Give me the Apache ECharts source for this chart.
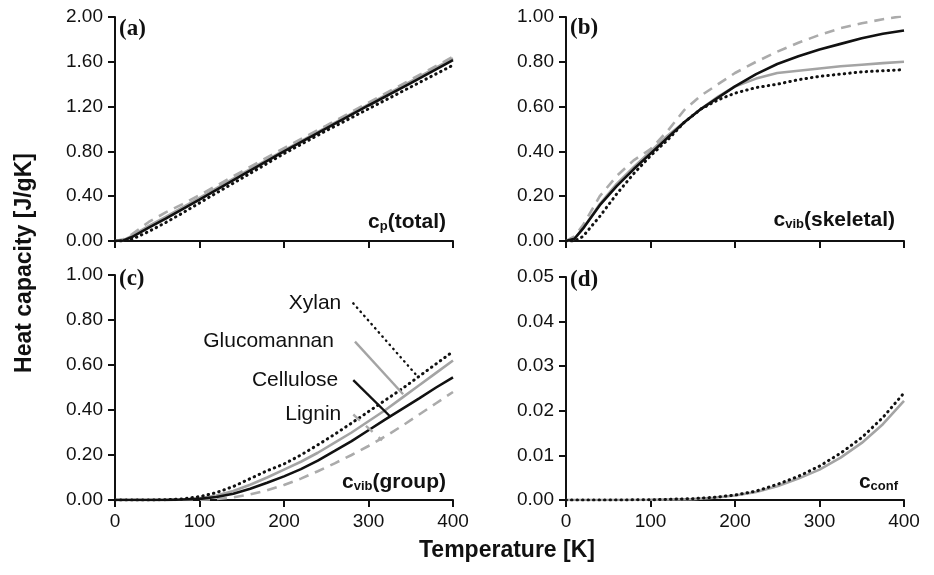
<!DOCTYPE html>
<html><head><meta charset="utf-8">
<script src="https://cdn.jsdelivr.net/npm/echarts@6/dist/echarts.min.js"></script>
<style>html,body{margin:0;padding:0;background:#fff}#c{width:934px;height:575px}</style>
</head><body><div id="c"></div><script>
// ---- Data ----
const xTicks = [0, 100, 200, 300, 400];
// (a) c_p(total)
const tempA = [0,10,20,40,60,80,100,150,200,250,300,350,400];
const cpCellulose   = [0,0.005,0.035,0.12,0.20,0.285,0.37,0.585,0.80,1.005,1.21,1.41,1.615];
const cpGlucomannan = [0,0.008,0.045,0.135,0.215,0.30,0.385,0.60,0.81,1.015,1.22,1.425,1.63];
const cpLignin      = [0,0.015,0.06,0.17,0.255,0.33,0.41,0.62,0.83,1.03,1.235,1.44,1.645];
const cpXylan       = [0,0,0.015,0.085,0.165,0.25,0.34,0.56,0.78,0.985,1.18,1.375,1.57];
// (b) c_vib(skeletal)
const tempB = [0,10,20,40,60,80,100,120,140,160,180,200,225,250,275,300,325,350,375,400];
const skCellulose   = [0,0.01,0.055,0.16,0.245,0.32,0.39,0.46,0.53,0.59,0.64,0.69,0.745,0.79,0.825,0.855,0.88,0.905,0.925,0.94];
const skGlucomannan = [0,0.01,0.055,0.165,0.255,0.33,0.40,0.47,0.53,0.59,0.645,0.69,0.725,0.75,0.76,0.77,0.78,0.787,0.794,0.80];
const skLignin      = [0,0.02,0.07,0.20,0.29,0.36,0.41,0.49,0.585,0.65,0.70,0.75,0.80,0.845,0.885,0.92,0.95,0.972,0.99,1.005];
const skXylan       = [0,0,0.02,0.11,0.21,0.30,0.38,0.45,0.53,0.59,0.63,0.66,0.685,0.70,0.72,0.735,0.745,0.755,0.76,0.765];
// (c) c_vib(group)
const tempC = [0,20,40,60,80,100,120,140,160,180,200,220,240,260,280,300,320,340,360,380,400];
const grCellulose   = [0,0,0,0,0.002,0.005,0.013,0.028,0.05,0.077,0.105,0.137,0.175,0.218,0.262,0.31,0.358,0.405,0.452,0.50,0.545];
const grGlucomannan = [0,0,0,0,0.002,0.008,0.02,0.04,0.068,0.10,0.135,0.17,0.21,0.255,0.30,0.35,0.40,0.455,0.51,0.565,0.62];
const grLignin      = [0,0,0,0,0,0.001,0.004,0.012,0.025,0.043,0.067,0.095,0.128,0.163,0.20,0.24,0.283,0.33,0.38,0.43,0.48];
const grXylan       = [0,0,0,0.001,0.005,0.015,0.033,0.06,0.095,0.13,0.16,0.2,0.245,0.292,0.342,0.393,0.444,0.495,0.55,0.605,0.66];
// (d) c_conf
const tempD = [0,50,100,150,175,200,225,250,275,300,325,350,375,400];
const confXylan       = [0,0,0.00005,0.0003,0.0006,0.0011,0.002,0.0035,0.0053,0.0076,0.0105,0.014,0.0185,0.024];
const confGlucomannan = [0,0,0.00004,0.0002,0.0005,0.001,0.0018,0.0031,0.0048,0.0068,0.0095,0.0128,0.017,0.0222];
// leader lines of the material labels in (c)
const leaderNames = ['Xylan', 'Glucomannan', 'Cellulose', 'Lignin'];
const leaderStartT = [282, 284, 282, 282];
const leaderStartV = [0.874, 0.704, 0.533, 0.38];
const leaderEndT   = [359, 341, 326, 316];
const leaderEndV   = [0.545, 0.47, 0.37, 0.265];
// axis ranges
const yMax = [2.0, 1.0, 1.0, 0.05];
const yStep = [0.4, 0.2, 0.2, 0.01];
const panelTags = ['(a)', '(b)', '(c)', '(d)'];

// ---- Styles ----
const BLACK = '#111111', GRAY = '#a4a4a4', DGRAY = '#ababab';
const FONT = '"Liberation Sans", Arial, Helvetica, sans-serif';
const SERIF = '"Liberation Serif", "Times New Roman", serif';
const styles = {
  Cellulose:   {color: BLACK, type: 'solid', width: 2.6},
  Glucomannan: {color: GRAY, type: 'solid', width: 2.6},
  Lignin:      {color: DGRAY, type: [10, 7], width: 2.6},
  Xylan:       {color: BLACK, type: [0.5, 5], width: 3, cap: 'round'}
};
const zip = (xs, ys) => xs.map((x, i) => [x, ys[i]]);

const grids = [
  {left: 115, top: 17, width: 338, height: 224},
  {left: 566, top: 17, width: 338, height: 224},
  {left: 115, top: 275, width: 338, height: 225},
  {left: 566, top: 277, width: 338, height: 223}
];

const xAxes = grids.map((g, i) => ({
  gridIndex: i, type: 'value', min: xTicks[0], max: xTicks[xTicks.length - 1], interval: xTicks[1] - xTicks[0],
  axisLine: {show: true, lineStyle: {color: BLACK, width: 2}},
  axisTick: {show: true, length: 7, lineStyle: {color: BLACK, width: 2}},
  axisLabel: {show: i >= 2, color: BLACK, fontSize: 19, fontFamily: FONT, margin: 12},
  splitLine: {show: false}
}));
const yAxes = grids.map((g, i) => ({
  gridIndex: i, type: 'value', min: 0, max: yMax[i], interval: yStep[i],
  axisLine: {show: true, onZero: false, lineStyle: {color: BLACK, width: 2}},
  axisTick: {show: true, length: 7, lineStyle: {color: BLACK, width: 2}},
  axisLabel: {color: BLACK, fontSize: 19, fontFamily: FONT, margin: 12,
    formatter: v => v.toFixed(2)},
  splitLine: {show: false}
}));

function curve(name, panel, xs, ys) {
  return {
    name, type: 'line', xAxisIndex: panel, yAxisIndex: panel,
    data: zip(xs, ys), showSymbol: false, symbol: 'none',
    smooth: false, clip: true, sampling: null,
    lineStyle: styles[name], silent: true, animation: false, z: 3
  };
}

const series = [
  curve('Lignin', 0, tempA, cpLignin),
  curve('Glucomannan', 0, tempA, cpGlucomannan),
  curve('Cellulose', 0, tempA, cpCellulose),
  curve('Xylan', 0, tempA, cpXylan),
  curve('Lignin', 1, tempB, skLignin),
  curve('Glucomannan', 1, tempB, skGlucomannan),
  curve('Cellulose', 1, tempB, skCellulose),
  curve('Xylan', 1, tempB, skXylan),
  curve('Lignin', 2, tempC, grLignin),
  curve('Glucomannan', 2, tempC, grGlucomannan),
  curve('Cellulose', 2, tempC, grCellulose),
  curve('Xylan', 2, tempC, grXylan),
  curve('Glucomannan', 3, tempD, confGlucomannan),
  curve('Xylan', 3, tempD, confXylan)
];

// leader lines
leaderNames.forEach((nm, k) => {
  const st = Object.assign({}, styles[nm]);
  if (nm === 'Lignin') st.type = [9, 8];
  series.push({
    name: nm + ' leader', type: 'line', xAxisIndex: 2, yAxisIndex: 2,
    data: [[leaderStartT[k], leaderStartV[k]], [leaderEndT[k], leaderEndV[k]]],
    showSymbol: false, symbol: 'none', lineStyle: Object.assign(st, {width: 2.4}),
    silent: true, animation: false, z: 4
  });
});
const labelGap = {Xylan: 12, Glucomannan: 21, Cellulose: 15, Lignin: 12};

const richMain = {fontSize: 21, fontWeight: 'bold', fontFamily: FONT, fill: BLACK, verticalAlign: 'bottom', lineHeight: 22};
const richSub = {fontSize: 13, fontWeight: 'bold', fontFamily: FONT, fill: BLACK, verticalAlign: 'bottom', lineHeight: 9};
function subLabel(main, sub, tail, x, y) {
  return {
    type: 'text', x, y, silent: true,
    style: {text: '{b|' + main + '}{s|' + sub + '}' + (tail ? '{b|' + tail + '}' : ''),
      align: 'right', verticalAlign: 'middle',
      rich: {b: richMain, s: richSub}}
  };
}

const graphics = [
  {type: 'text', x: 119, y: 29, silent: true, style: {text: panelTags[0], font: 'bold 23px ' + SERIF, fill: BLACK, verticalAlign: 'middle'}},
  {type: 'text', x: 570, y: 28, silent: true, style: {text: panelTags[1], font: 'bold 23px ' + SERIF, fill: BLACK, verticalAlign: 'middle'}},
  {type: 'text', x: 119, y: 279, silent: true, style: {text: panelTags[2], font: 'bold 23px ' + SERIF, fill: BLACK, verticalAlign: 'middle'}},
  {type: 'text', x: 570, y: 280, silent: true, style: {text: panelTags[3], font: 'bold 23px ' + SERIF, fill: BLACK, verticalAlign: 'middle'}},
  subLabel('c', 'p', '(total)', 446, 222),
  subLabel('c', 'vib', '(skeletal)', 895, 220),
  subLabel('c', 'vib', '(group)', 446, 482),
  subLabel('c', 'conf', '', 898, 482),
  {type: 'text', x: 507, y: 551, silent: true,
    style: {text: 'Temperature [K]', font: 'bold 23px ' + FONT, fill: BLACK, align: 'center', verticalAlign: 'middle'}},
  {type: 'text', x: 25, y: 263, rotation: Math.PI / 2, silent: true,
    style: {text: 'Heat capacity [J/gK]', font: 'bold 23px ' + FONT, fill: BLACK, align: 'center', verticalAlign: 'middle'}}
];

const chart = echarts.init(document.getElementById('c'), null, {renderer: 'canvas'});
chart.setOption({
  backgroundColor: '#ffffff',
  animation: false,
  grid: grids,
  xAxis: xAxes,
  yAxis: yAxes,
  series,
  graphic: graphics
});
// material labels, anchored at the start of each leader line through the axis scales
const nameGraphics = leaderNames.map((nm, k) => {
  const p = chart.convertToPixel({gridIndex: 2}, [leaderStartT[k], leaderStartV[k]]);
  return {type: 'text', x: p[0] - labelGap[nm], y: p[1], silent: true,
    style: {text: nm, font: '21px ' + FONT, fill: BLACK, align: 'right', verticalAlign: 'middle'}};
});
chart.setOption({graphic: graphics.concat(nameGraphics)});
</script></body></html>
